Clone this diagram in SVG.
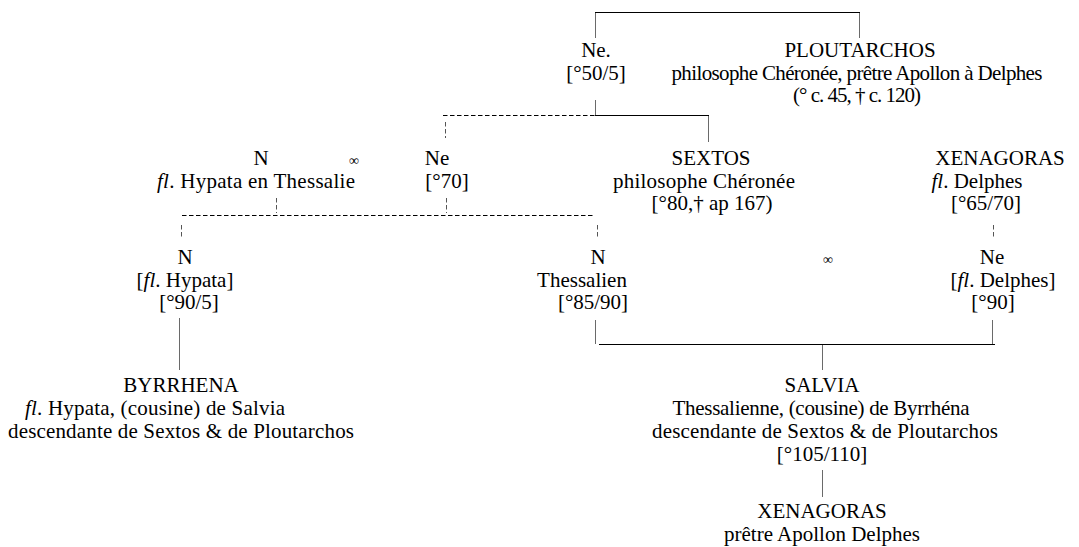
<svg xmlns="http://www.w3.org/2000/svg" width="1079" height="547" viewBox="0 0 1079 547">
<style>
text{font-family:"Liberation Serif","Times New Roman",serif;font-size:21px;fill:#000;text-anchor:middle}
.sm{font-size:14px}
.h{fill:none;stroke:#000;stroke-width:1}
.v{fill:none;stroke:#6a6a6a;stroke-width:1}
.d{fill:none;stroke:#000;stroke-width:1;stroke-dasharray:4.5 2.5}
.dv{fill:none;stroke:#555;stroke-width:1;stroke-dasharray:4.5 2.5}
</style>
<rect width="1079" height="547" fill="#fff"/>
<g id="connectors">
<path class="h" d="M595 12.5H860"/>
<path class="v" d="M595.5 13V38M859.5 13V38"/>
<path class="v" d="M595.5 100V115"/>
<path class="h" d="M595 115.5H709"/>
<path class="v" d="M708.5 116V142"/>
<path class="d" d="M443 115.5H595"/>
<path class="dv" d="M445.5 122V138"/>
<path class="d" d="M182 215.5H593"/>
<path class="dv" d="M276.5 198V213M446.5 198V213"/>
<path class="dv" d="M181.5 225V238M597.5 225V238M993.5 225V238"/>
<path class="v" d="M595.5 320V344M992.5 320V344M822.5 345V370"/>
<path class="h" d="M599 344.5H995"/>
<path class="v" d="M179.5 318V370"/>
<path class="v" d="M822.5 470V497"/>
</g>
<g id="ne1"><text x="596" y="57">Ne.</text><text x="596" y="80">[°50/5]</text></g>
<g id="ploutarchos"><text x="860" y="57">PLOUTARCHOS</text><text x="857" y="80" textLength="371">philosophe Chéronée, prêtre Apollon à Delphes</text><text x="857" y="102" textLength="128">(° c. 45, † c. 120)</text></g>
<g id="n-hypata"><text x="261" y="165">N</text><text x="256" y="188" textLength="198"><tspan font-style="italic">fl</tspan>. Hypata en Thessalie</text></g>
<g id="marriage1"><text class="sm" x="354" y="165">∞</text></g>
<g id="ne2"><text x="437" y="165">Ne</text><text x="447" y="188">[°70]</text></g>
<g id="sextos"><text x="711" y="165">SEXTOS</text><text x="704" y="188" textLength="182">philosophe Chéronée</text><text x="712" y="210">[°80,† ap 167)</text></g>
<g id="xenagoras1"><text x="1000" y="165">XENAGORAS</text><text x="977" y="188"><tspan font-style="italic">fl</tspan>. Delphes</text><text x="986" y="210">[°65/70]</text></g>
<g id="n3"><text x="185" y="264">N</text><text x="185" y="287">[<tspan font-style="italic">fl</tspan>. Hypata]</text><text x="189" y="309">[°90/5]</text></g>
<g id="n-thessalien"><text x="598" y="264">N</text><text x="582" y="287">Thessalien</text><text x="593" y="309">[°85/90]</text></g>
<g id="marriage2"><text class="sm" x="828" y="264">∞</text></g>
<g id="ne3"><text x="992" y="264">Ne</text><text x="1003" y="287">[<tspan font-style="italic">fl</tspan>. Delphes]</text><text x="993" y="309">[°90]</text></g>
<g id="byrrhena"><text x="181" y="392">BYRRHENA</text><text x="155" y="415" textLength="260"><tspan font-style="italic">fl</tspan>. Hypata, (cousine) de Salvia</text><text x="181" y="438" textLength="346">descendante de Sextos &amp; de Ploutarchos</text></g>
<g id="salvia"><text x="822" y="392">SALVIA</text><text x="821" y="415" textLength="297">Thessalienne, (cousine) de Byrrhéna</text><text x="825" y="438" textLength="346">descendante de Sextos &amp; de Ploutarchos</text><text x="822" y="461">[°105/110]</text></g>
<g id="xenagoras2"><text x="822" y="518">XENAGORAS</text><text x="822" y="541">prêtre Apollon Delphes</text></g>
</svg>
